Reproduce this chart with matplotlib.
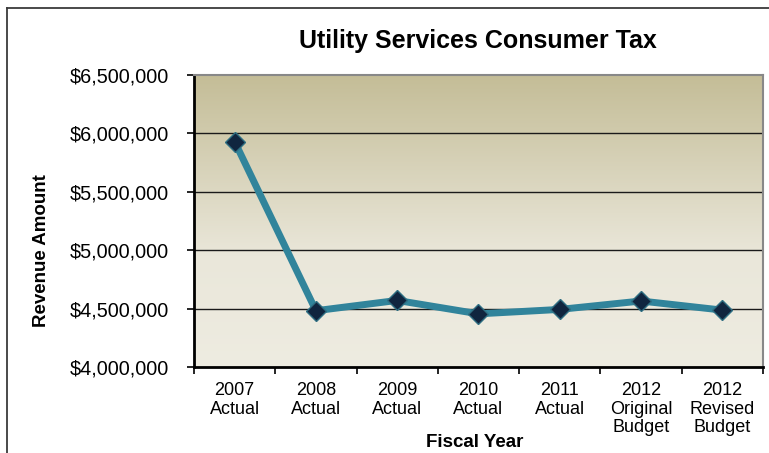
import matplotlib.pyplot as plt
import matplotlib.ticker as mticker
import numpy as np
from matplotlib.colors import LinearSegmentedColormap

plt.rcParams['font.family'] = ['Liberation Sans', 'DejaVu Sans']

# Revenue by fiscal year
categories = ['2007\nActual', '2008\nActual', '2009\nActual', '2010\nActual',
              '2011\nActual', '2012\nOriginal\nBudget', '2012\nRevised\nBudget']
revenue = [5930000, 4482000, 4570000, 4455000, 4493000, 4565000, 4487000]
y_ticks = [4000000, 4500000, 5000000, 5500000, 6000000, 6500000]

fig = plt.figure(figsize=(7.69, 4.53), dpi=100)
ax = fig.add_axes([194 / 769, 1 - 367 / 453, 569 / 769, 292 / 453])

# outer chart border (left and top edges)
fig.add_artist(plt.Line2D([7 / 769, 7 / 769], [0, 1 - 8 / 453], transform=fig.transFigure,
                          color='#3a3a3a', lw=1.3))
fig.add_artist(plt.Line2D([7 / 769, 1], [1 - 8 / 453, 1 - 8 / 453], transform=fig.transFigure,
                          color='#3a3a3a', lw=1.3))

# tan gradient behind the plot
grad_cmap = LinearSegmentedColormap.from_list(
    'tan', [(0.0, '#EEECE1'), (0.38, '#EAE7DA'), (1.0, '#C4BD97')])
grad = np.linspace(0, 1, 256).reshape(-1, 1)
ax.imshow(grad, aspect='auto', cmap=grad_cmap, origin='lower',
          extent=[-0.5, 6.5, 4000000, 6500000], zorder=0)

x = np.arange(len(categories))
ax.plot(x, revenue, color='#31849B', lw=5, zorder=3, solid_joinstyle='miter')
ax.plot(x, revenue, ls='none', marker='D', ms=10.5, mfc='#10253F', mec='#2E6E82',
        mew=1.0, zorder=4)

ax.set_xlim(-0.5, 6.5)
ax.set_ylim(4000000, 6500000)
ax.set_yticks(y_ticks)
ax.yaxis.set_major_formatter(mticker.FuncFormatter(lambda v, p: '${:,.0f}'.format(v)))
for v in y_ticks[1:-1]:
    ax.axhline(v, color='#1a1a1a', lw=1.0, zorder=1)

ax.set_xticks(np.arange(-0.5, 7, 1))
ax.set_xticklabels([])
ax.set_xticks(x, minor=True)
ax.set_xticklabels(categories, minor=True, fontsize=13, linespacing=1.12)
ax.tick_params(axis='x', which='minor', length=0, pad=11)
ax.tick_params(axis='x', which='major', length=5, width=1.2, direction='out')
ax.tick_params(axis='y', length=5, width=1.2, direction='out', pad=13, labelsize=14.3)

for side in ['left', 'bottom']:
    ax.spines[side].set_color('black')
    ax.spines[side].set_linewidth(2)
for side in ['top', 'right']:
    ax.spines[side].set_color('#888888')
    ax.spines[side].set_linewidth(1.5)

ax.set_ylabel('Revenue Amount', fontsize=13.5, fontweight='bold')
ax.yaxis.set_label_coords(-0.253, 0.40)
ax.set_xlabel('Fiscal Year', fontsize=13.5, fontweight='bold')
ax.xaxis.set_label_coords(0.494, -0.229)

fig.text(478 / 769, 1 - 41 / 453, 'Utility Services Consumer Tax', ha='center', va='center',
         fontsize=18, fontweight='bold')

fig.savefig('out.png', dpi=100)
